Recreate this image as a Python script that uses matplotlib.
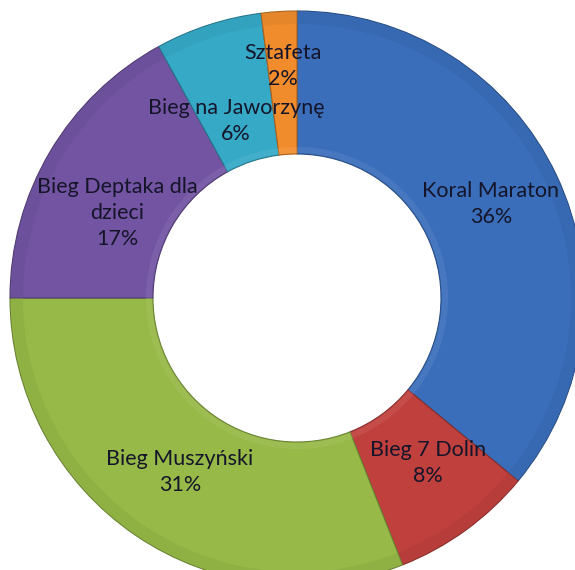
import numpy as np
import matplotlib.pyplot as plt
import matplotlib.colors as mcolors

# Dane
kategorie = ['Koral Maraton', 'Bieg 7 Dolin', 'Bieg Muszyński',
             'Bieg Deptaka dla\ndzieci', 'Bieg na Jaworzynę', 'Sztafeta']
udzial = [36, 8, 31, 17, 6, 2]
kolory = ['#3a6ebb', '#c0403d', '#96b947', '#7254a2', '#36a9c7', '#f08c2c']

# Polozenie etykiet (piksele obrazka, od lewego gornego rogu)
etykiety_xy = [(491, 204), (428, 463), (180, 472), (117, 213), (236, 121), (283, 66)]

W, H = 575, 570
cx, cy = 297, H - 298   # srodek w ukladzie osi
R = 287
szer = 143

fig = plt.figure(figsize=(W / 100, H / 100), dpi=100)
ax = fig.add_axes([0, 0, 1, 1])

def ciemniej(c, f):
    r, g, b = mcolors.to_rgb(c)
    return (r * f, g * f, b * f)

def jasniej(c, f):
    r, g, b = mcolors.to_rgb(c)
    return (r + (1 - r) * f, g + (1 - g) * f, b + (1 - b) * f)

wedges, _ = ax.pie(udzial, colors=kolory, startangle=90, counterclock=False,
                   radius=R, center=(cx, cy),
                   wedgeprops=dict(width=szer, linewidth=0.8))
for w, k in zip(wedges, kolory):
    w.set_edgecolor(ciemniej(k, 0.7))

# lekkie cieniowanie w stylu Excela: jasna krawedz wewnetrzna, ciemniejsza zewnetrzna
ax.pie(udzial, colors=[jasniej(k, 0.2) for k in kolory], startangle=90,
       counterclock=False, radius=R - szer + 7, center=(cx, cy),
       wedgeprops=dict(width=6, linewidth=0, alpha=0.35))
ax.pie(udzial, colors=[ciemniej(k, 0.88) for k in kolory], startangle=90,
       counterclock=False, radius=R - 1, center=(cx, cy),
       wedgeprops=dict(width=12, linewidth=0, alpha=0.35))

for nazwa, wart, (x, y) in zip(kategorie, udzial, etykiety_xy):
    ax.text(x, H - y, f'{nazwa}\n{wart}%', ha='center', va='center',
            fontsize=15.5, family='Lato', color='#15152a', linespacing=1.35)

ax.set_xlim(0, W)
ax.set_ylim(0, H)
ax.set_aspect('equal')
ax.axis('off')

fig.savefig('out.png', dpi=100, facecolor='white')
